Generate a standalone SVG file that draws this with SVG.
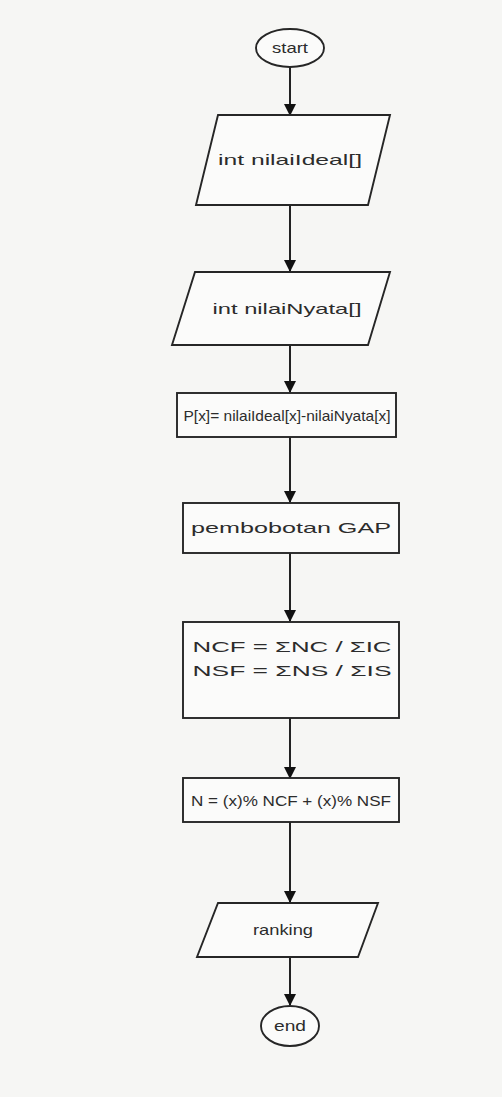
<svg xmlns="http://www.w3.org/2000/svg" width="502" height="1097" viewBox="0 0 502 1097">
<style>
.shape{fill:#fbfbfa;stroke:#262626;stroke-width:1.9}
.lbl{font-family:"Liberation Sans",Arial,sans-serif;font-size:15px;fill:#2c2c2c;text-anchor:middle}
.conn{stroke:#222;stroke-width:2;fill:none}
</style>
<defs>
<marker id="ah" markerWidth="12" markerHeight="12" refX="11" refY="6" orient="auto" markerUnits="userSpaceOnUse">
<path d="M0,0 L12,6 L0,12 z" fill="#111"/>
</marker>
</defs>
<rect width="502" height="1097" fill="#f6f6f4"/>
<g id="connectors">
<line class="conn" x1="290" y1="67" x2="290" y2="115" marker-end="url(#ah)"/>
<line class="conn" x1="290" y1="205" x2="290" y2="271" marker-end="url(#ah)"/>
<line class="conn" x1="290" y1="345" x2="290" y2="392" marker-end="url(#ah)"/>
<line class="conn" x1="290" y1="437" x2="290" y2="502" marker-end="url(#ah)"/>
<line class="conn" x1="290" y1="553" x2="290" y2="621" marker-end="url(#ah)"/>
<line class="conn" x1="290" y1="718" x2="290" y2="778" marker-end="url(#ah)"/>
<line class="conn" x1="290" y1="822" x2="290" y2="902" marker-end="url(#ah)"/>
<line class="conn" x1="290" y1="957" x2="290" y2="1005" marker-end="url(#ah)"/>
</g>
<g id="start">
<ellipse class="shape" cx="290" cy="48" rx="34" ry="19"/>
<text class="lbl" x="290" y="53" textLength="36" lengthAdjust="spacingAndGlyphs">start</text>
</g>
<g id="input-ideal">
<polygon class="shape" points="218,115 390,115 368,205 196,205"/>
<text class="lbl" x="290" y="165" textLength="144" lengthAdjust="spacingAndGlyphs">int nilaiIdeal[]</text>
</g>
<g id="input-nyata">
<polygon class="shape" points="195,272 390,272 368,345 172,345"/>
<text class="lbl" x="287" y="314" textLength="149" lengthAdjust="spacingAndGlyphs">int nilaiNyata[]</text>
</g>
<g id="gap">
<rect class="shape" x="177" y="393" width="219" height="44"/>
<text class="lbl" x="287" y="421" textLength="207" lengthAdjust="spacingAndGlyphs">P[x]= nilaiIdeal[x]-nilaiNyata[x]</text>
</g>
<g id="pembobotan">
<rect class="shape" x="183" y="503" width="216" height="50"/>
<text class="lbl" x="291" y="533" textLength="200" lengthAdjust="spacingAndGlyphs">pembobotan GAP</text>
</g>
<g id="factor">
<rect class="shape" x="183" y="622" width="216" height="96"/>
<text class="lbl" x="292" y="652" textLength="199" lengthAdjust="spacingAndGlyphs">NCF = ΣNC / ΣIC</text>
<text class="lbl" x="292" y="676" textLength="199" lengthAdjust="spacingAndGlyphs">NSF = ΣNS / ΣIS</text>
</g>
<g id="total">
<rect class="shape" x="183" y="778" width="216" height="44"/>
<text class="lbl" x="291" y="806" textLength="200" lengthAdjust="spacingAndGlyphs">N = (x)% NCF + (x)% NSF</text>
</g>
<g id="ranking">
<polygon class="shape" points="218,903 378,903 358,957 197,957"/>
<text class="lbl" x="283" y="935" textLength="60" lengthAdjust="spacingAndGlyphs">ranking</text>
</g>
<g id="end">
<ellipse class="shape" cx="290" cy="1026" rx="29" ry="20"/>
<text class="lbl" x="290" y="1031" textLength="32" lengthAdjust="spacingAndGlyphs">end</text>
</g>
</svg>
